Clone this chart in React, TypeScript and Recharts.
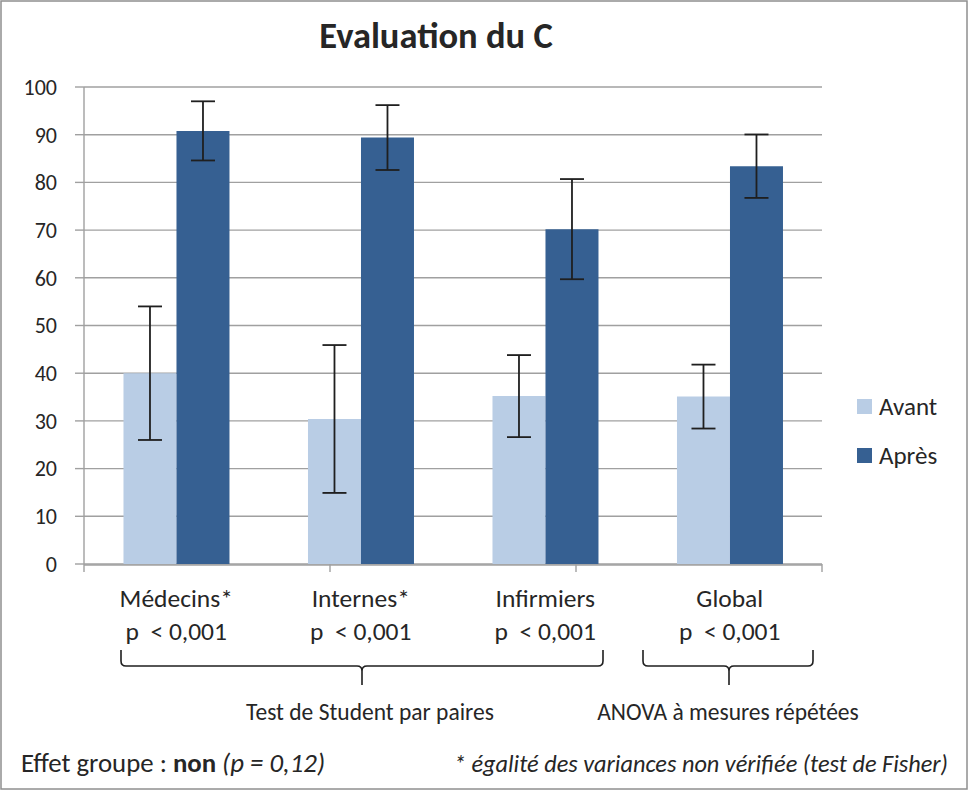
import React from 'react';
import { BarChart, Bar, XAxis, YAxis, CartesianGrid, ErrorBar, Legend } from 'recharts';

const FONT = 'Carlito, Lato, "Open Sans", sans-serif';
const TEXT = '#262626';
const GRID = '#A0A0A0';

const categories = ['Médecins*', 'Internes*', 'Infirmiers', 'Global'];
const pLabels = ['p  < 0,001', 'p  < 0,001', 'p  < 0,001', 'p  < 0,001'];
const seriesNames = ['Avant', 'Après'];
const avant = [40, 30.4, 35.2, 35.1];
const avantErr = [14, 15.5, 8.6, 6.7];
const apres = [90.8, 89.4, 70.2, 83.4];
const apresErr = [6.2, 6.8, 10.5, 6.65];
const yTicks = [0, 10, 20, 30, 40, 50, 60, 70, 80, 90, 100];
const boundaryTicks = [0, 1, 2, 3, 4];

const data = categories.map((c, i) => ({
  cat: c,
  p: pLabels[i],
  Avant: avant[i],
  avantErr: avantErr[i],
  'Après': apres[i],
  apresErr: apresErr[i],
}));

const CatTick = (props: any) => {
  const { x, y, payload, index } = props;
  const i = payload && payload.index != null ? payload.index : index;
  return (
    <g>
      <text x={x} y={y + 42} textAnchor="middle" fontSize={25.5} fill={TEXT} fontFamily={FONT}>
        {payload.value}
      </text>
      <text x={x} y={y + 75} textAnchor="middle" fontSize={25.5} fill={TEXT} fontFamily={FONT} style={{ whiteSpace: 'pre' }}>
        {data[i] ? data[i].p : ''}
      </text>
    </g>
  );
};

const renderLegend = (props: any) => {
  const payload = [...(props.payload || [])].sort(
    (a: any, b: any) => seriesNames.indexOf(a.value) - seriesNames.indexOf(b.value)
  );
  return (
    <div style={{ fontFamily: FONT, fontSize: 25, color: TEXT }}>
      {payload.map((e: any, i: number) => (
        <div key={i} style={{ display: 'flex', alignItems: 'center', height: 49 }}>
          <span style={{ width: 15, height: 15, background: e.color, marginRight: 7, display: 'inline-block', flex: 'none' }} />
          <span>{e.value}</span>
        </div>
      ))}
    </div>
  );
};

export default function App() {
  return (
    <div style={{ position: 'absolute', left: 0, top: 0, width: 970, height: 791, background: '#fff' }}>
      <BarChart
        width={970}
        height={791}
        data={data}
        margin={{ top: 87, right: 148, left: 0, bottom: 166 }}
        barCategoryGap="21.4%"
        barGap={0}
      >
        <CartesianGrid xAxisId="cat" vertical={false} stroke={GRID} strokeWidth={1.4} />
        <XAxis
          xAxisId="b"
          type="number"
          domain={[0, 4]}
          ticks={boundaryTicks}
          allowDataOverflow
          height={1}
          axisLine={false}
          tickLine={{ stroke: GRID, strokeWidth: 1.4 }}
          tickSize={8}
          tick={() => <g />}
        />
        <XAxis
          xAxisId="cat"
          dataKey="cat"
          height={60}
          interval={0}
          axisLine={{ stroke: GRID, strokeWidth: 1.4 }}
          tickLine={false}
          tickSize={0}
          tickMargin={0}
          tick={<CatTick />}
        />
        <YAxis
          width={84}
          domain={[0, 100]}
          ticks={yTicks}
          interval={0}
          axisLine={{ stroke: GRID, strokeWidth: 1.4 }}
          tickLine={{ stroke: GRID, strokeWidth: 1.4 }}
          tickSize={9}
          tickMargin={18}
          tick={{ fontSize: 22, fill: TEXT, fontFamily: FONT }}
        />
        <Legend
          layout="vertical"
          align="center"
          verticalAlign="middle"
          content={renderLegend}
          wrapperStyle={{ position: 'absolute', left: 857, top: 382, width: 110, height: 98 }}
        />
        <Bar xAxisId="cat" dataKey="Avant" fill="#B9CDE5" isAnimationActive={false}>
          <ErrorBar dataKey="avantErr" width={12} stroke="#1F1F1F" strokeWidth={1.8} />
        </Bar>
        <Bar xAxisId="cat" dataKey="Après" fill="#366092" isAnimationActive={false}>
          <ErrorBar dataKey="apresErr" width={12} stroke="#1F1F1F" strokeWidth={1.8} />
        </Bar>
      </BarChart>
      <svg
        width={970}
        height={791}
        style={{ position: 'absolute', left: 0, top: 0, pointerEvents: 'none' }}
      >
        <rect x={1} y={1} width={966} height={788} fill="none" stroke="#8F8F8F" strokeWidth={1.5} />
        <text x={436} y={48} textAnchor="middle" fontSize={36.5} fontWeight="bold" fill={TEXT} fontFamily={FONT}>
          Evaluation du C
        </text>
        <g fill="none" stroke="#1F1F1F" strokeWidth={1.6}>
          <path d="M121,650 L121,661 Q121,666 126,666 L357,666 Q362,666 362,671 L362,685 M362,671 Q362,666 367,666 L598,666 Q603,666 603,661 L603,650" />
          <path d="M643,650 L643,661 Q643,666 648,666 L724,666 Q729,666 729,671 L729,685 M729,671 Q729,666 734,666 L808,666 Q813,666 813,661 L813,650" />
        </g>
        <text x={370} y={720} textAnchor="middle" fontSize={23.5} fill={TEXT} fontFamily={FONT}>
          Test de Student par paires
        </text>
        <text x={728} y={720} textAnchor="middle" fontSize={23.5} fill={TEXT} fontFamily={FONT}>
          ANOVA à mesures répétées
        </text>
        <text x={21} y={772} fontSize={26.8} fill={TEXT} fontFamily={FONT}>
          Effet groupe : <tspan fontWeight="bold">non</tspan> <tspan fontStyle="italic">(p = 0,12)</tspan>
        </text>
        <text x={948} y={772} textAnchor="end" fontSize={24.3} fontStyle="italic" fill={TEXT} fontFamily={FONT}>
          * égalité des variances non vérifiée (test de Fisher)
        </text>
      </svg>
    </div>
  );
}
